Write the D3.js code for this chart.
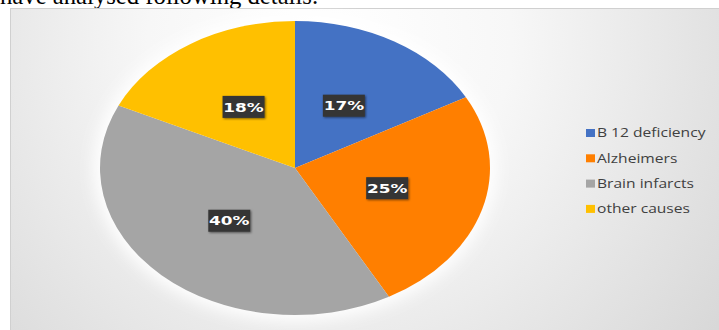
<!DOCTYPE html>
<html>
<head>
<meta charset="utf-8">
<script src="https://cdn.jsdelivr.net/npm/d3@7"></script>
<style>
  body { margin: 0; background: #fff; }
  svg { display: block; }
</style>
</head>
<body>
<div id="chart"></div>
<script>
// chart data
const causes = ["B 12 deficiency", "Alzheimers", "Brain infarcts", "other causes"];
const shares = [17, 25, 40, 18];
const colors = ["#4472C4", "#FF7F00", "#A5A5A5", "#FFC000"];

const width = 719, height = 330;
const cx = 295, cy = 168;
const rx = 195, ry = 147;
const labelR = 96;
// the original picture is stretched sideways, text too
const stretch = 1.3;

const svg = d3.select("#chart").append("svg")
    .attr("width", width)
    .attr("height", height);

const defs = svg.append("defs");
const bg = defs.append("radialGradient")
    .attr("id", "bg")
    .attr("gradientUnits", "userSpaceOnUse")
    .attr("cx", 330).attr("cy", 40).attr("r", 520);
bg.append("stop").attr("offset", "0%").attr("stop-color", "#ffffff");
bg.append("stop").attr("offset", "35%").attr("stop-color", "#f7f7f7");
bg.append("stop").attr("offset", "100%").attr("stop-color", "#d4d4d4");

const glow = defs.append("filter").attr("id", "glow")
    .attr("x", "-20%").attr("y", "-20%").attr("width", "140%").attr("height", "140%");
glow.append("feGaussianBlur").attr("stdDeviation", 8);

const shadow = defs.append("filter").attr("id", "shadow")
    .attr("x", "-30%").attr("y", "-30%").attr("width", "160%").attr("height", "160%");
shadow.append("feDropShadow")
    .attr("dx", 1).attr("dy", 1).attr("stdDeviation", 1.2)
    .attr("flood-color", "#000").attr("flood-opacity", 0.5);

// page text cut off above the chart
svg.append("text")
    .attr("x", 0).attr("y", 4)
    .attr("font-family", "Liberation Serif, Times New Roman, serif")
    .attr("font-size", 24.7)
    .attr("fill", "#000")
    .text("have analysed following details.");

// chart area
svg.append("rect")
    .attr("x", 10.5).attr("y", 8.5)
    .attr("width", width).attr("height", height)
    .attr("fill", "url(#bg)")
    .attr("stroke", "#d0d0d0");

// soft halo behind pie
svg.append("ellipse")
    .attr("cx", cx).attr("cy", cy)
    .attr("rx", rx + 6).attr("ry", ry + 6)
    .attr("fill", "#ffffff")
    .attr("filter", "url(#glow)");

const pie = d3.pie().sort(null).value(d => d)(shares);
const arc = d3.arc().innerRadius(0).outerRadius(rx);
const labelArc = d3.arc().innerRadius(labelR).outerRadius(labelR);

const g = svg.append("g")
    .attr("transform", `translate(${cx},${cy}) scale(1,${ry / rx})`);

g.selectAll("path")
    .data(pie)
    .join("path")
    .attr("d", arc)
    .attr("fill", (d, i) => colors[i]);

// data labels
const lab = svg.append("g")
    .attr("transform", `translate(${cx},${cy})`)
    .selectAll("g")
    .data(pie)
    .join("g")
    .attr("transform", d => {
        const c = labelArc.centroid(d);
        return `translate(${c[0]},${c[1] * ry / rx})`;
    });

lab.append("rect")
    .attr("x", -21).attr("y", -11)
    .attr("width", 42).attr("height", 22)
    .attr("fill", "#353535")
    .attr("filter", "url(#shadow)");

lab.append("text")
    .attr("text-anchor", "middle")
    .attr("dy", "0.36em")
    .attr("transform", `scale(${stretch},1)`)
    .attr("font-family", "DejaVu Sans, sans-serif")
    .attr("font-weight", "bold")
    .attr("font-size", 13)
    .attr("fill", "#fff")
    .text(d => d.data + "%");

// legend
const legend = svg.append("g")
    .attr("transform", "translate(586,133)")
    .selectAll("g")
    .data(causes)
    .join("g")
    .attr("transform", (d, i) => `translate(0,${i * 25.3})`);

legend.append("rect")
    .attr("x", 0).attr("y", -4)
    .attr("width", 9).attr("height", 8)
    .attr("fill", (d, i) => colors[i]);

legend.append("text")
    .attr("dy", "0.35em")
    .attr("transform", `translate(11,0) scale(${stretch},1)`)
    .attr("font-family", "Open Sans, sans-serif")
    .attr("font-size", 12)
    .attr("fill", "#404040")
    .text(d => d);
</script>
</body>
</html>
